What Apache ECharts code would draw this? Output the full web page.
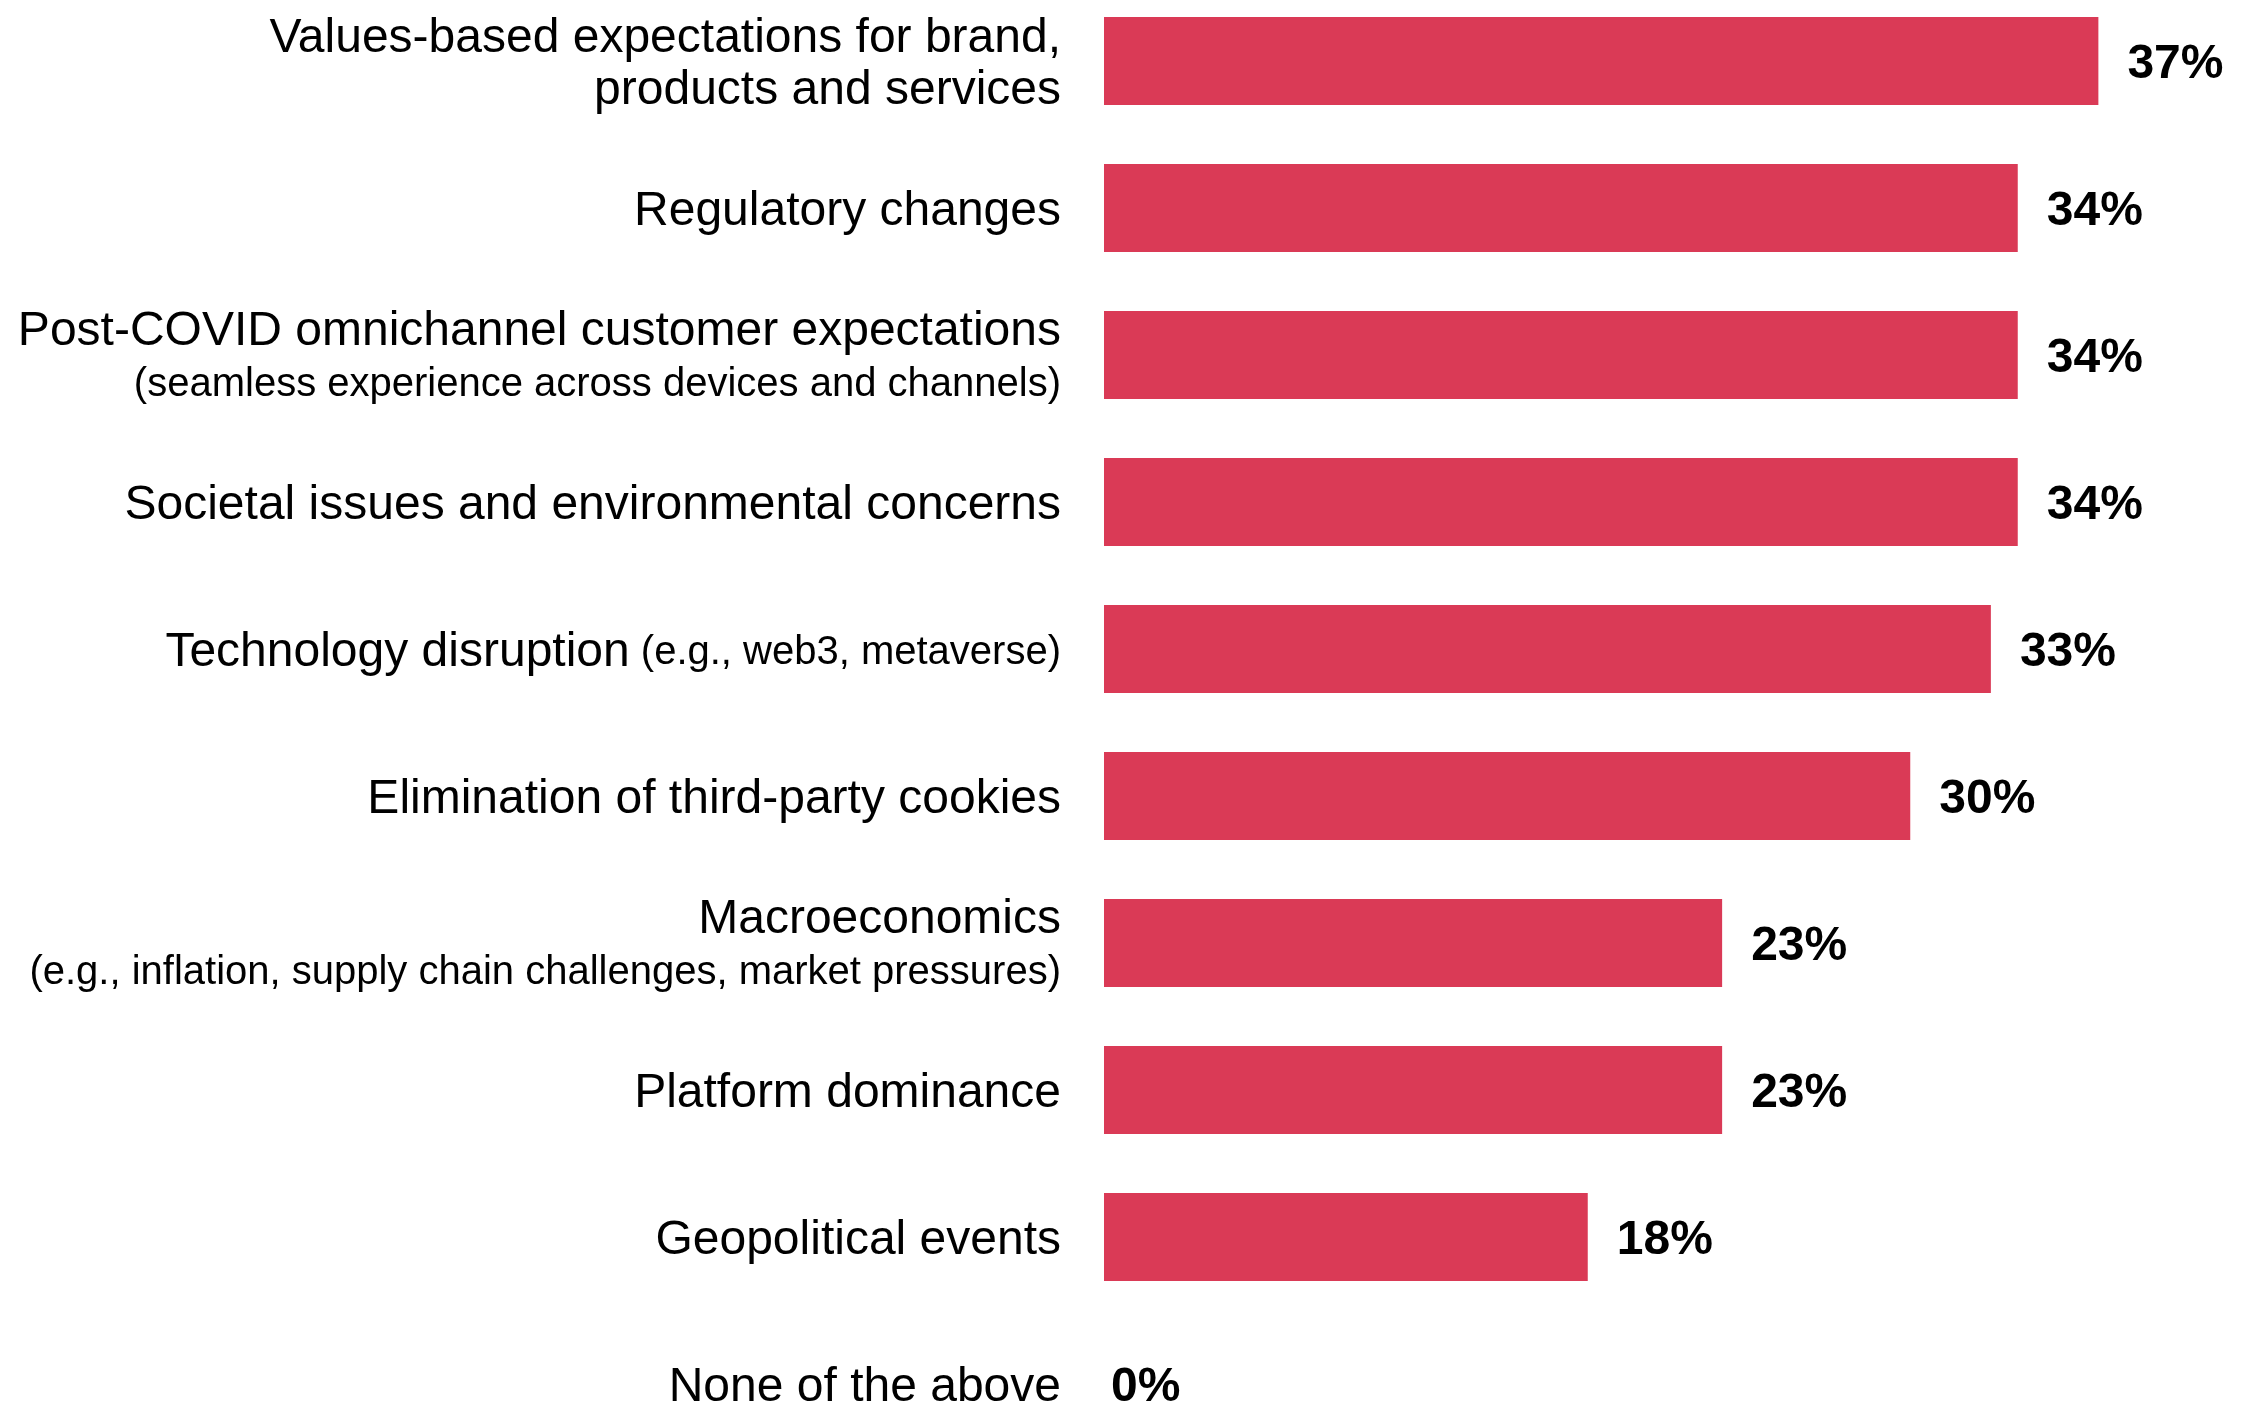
<!DOCTYPE html>
<html>
<head>
<meta charset="utf-8">
<title>Factors</title>
<script src="https://cdn.jsdelivr.net/npm/echarts@6/dist/echarts.min.js"></script>
<style>
  html, body { margin: 0; padding: 0; background: #fff; }
  #chart { width: 2248px; height: 1401px; }
</style>
</head>
<body>
<div id="chart"></div>
<script>
// categories, top to bottom
const categories = [
  'Values-based expectations for brand,\nproducts and services',
  'Regulatory changes',
  'Post-COVID omnichannel customer expectations',
  'Societal issues and environmental concerns',
  'Technology disruption',
  'Elimination of third-party cookies',
  'Macroeconomics',
  'Platform dominance',
  'Geopolitical events',
  'None of the above'
]
// small print after the main label
const notes = [
  '', '',
  '(seamless experience across devices and channels)',
  '',
  '(e.g., web3, metaverse)',
  '',
  '(e.g., inflation, supply chain challenges, market pressures)',
  '', '', ''
]
const noteInline = [false, false, false, false, true, false, false, false, false, false]
const values = [37, 34, 34, 34, 33, 30, 23, 23, 18, 0]

const chart = echarts.init(document.getElementById('chart'))

function labelText(value, idx) {
  const lines = value.split('\n').map(l => `{m|${l}}`)
  const note = notes[idx]
  if (!note) return lines.join('\n')
  if (noteInline[idx]) return lines.join('\n') + `{n| ${note}}`
  return lines.join('\n') + `\n{n|${note}}`
}

const option = {
  backgroundColor: '#fff',
  animation: false,
  grid: {
    left: 1104,
    top: -12.5,
    width: 1075,
    height: 1470,
    outerBoundsMode: 'none'
  },
  xAxis: {
    type: 'value',
    min: 0,
    max: 40,
    show: false,
    splitLine: { show: false }
  },
  yAxis: {
    type: 'category',
    inverse: true,
    data: categories,
    axisLine: { show: false },
    axisTick: { show: false },
    axisLabel: {
      margin: 43,
      align: 'right',
      color: '#000',
      fontFamily: 'Liberation Sans',
      padding: [8, 0, 0, 0],
      formatter: labelText,
      rich: {
        m: { fontSize: 48, lineHeight: 52, color: '#000', fontFamily: 'Liberation Sans' },
        n: { fontSize: 40, lineHeight: 54, color: '#000', fontFamily: 'Liberation Sans' }
      }
    }
  },
  series: [
    {
      type: 'bar',
      barWidth: 88,
      itemStyle: { color: '#DA3A56' },
      label: {
        show: true,
        position: 'right',
        distance: 29,
        offset: [0, 4],
        color: '#000',
        fontSize: 48,
        fontWeight: 'bold',
        fontFamily: 'Liberation Sans',
        formatter: p => p.value + '%'
      },
      data: values.map(v => v === 0 ? { value: v, label: { distance: 7 } } : v)
    }
  ]
}

chart.setOption(option)
</script>
</body>
</html>
